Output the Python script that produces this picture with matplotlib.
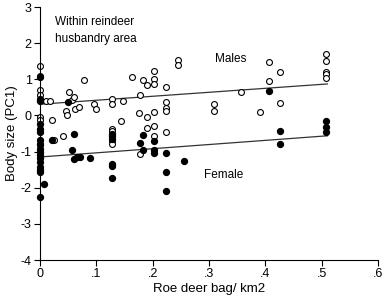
import matplotlib.pyplot as plt
import numpy as np

plt.rcParams['font.family'] = ['Liberation Sans', 'DejaVu Sans']
plt.rcParams['axes.unicode_minus'] = False

# males (open circles)
male_x = [0, 0, 0, 0, 0, 0, 0.011, 0.018, 0.021, 0, 0.025, 0.041,
          0.046, 0.048, 0.051, 0.056, 0.06, 0.062, 0.069, 0.078, 0.095, 0.1,
          0.127, 0.127, 0.127, 0.127, 0.127, 0.127, 0.143, 0.147, 0.164,
          0.175, 0.178, 0.178, 0.182, 0.19, 0.19, 0.19,
          0.202, 0.202, 0.202, 0.202, 0.202, 0.202,
          0.223, 0.223, 0.223, 0.223, 0.223, 0.245, 0.245,
          0.308, 0.308, 0.357, 0.39, 0.406, 0.406, 0.426, 0.426,
          0.507, 0.507, 0.507, 0.507, 0.507]
male_y = [1.37, 1.09, 0.71, 0.57, -0.03, -0.12, 0.40, 0.39, -0.12, -0.83, -0.67, -0.57,
          0.13, 0.02, 0.66, 0.42, 0.52, 0.19, 0.24, 0.97, 0.32, 0.17,
          0.45, 0.32, -0.37, -0.44, -0.71, -0.80, -0.15, 0.39, 1.05,
          0.07, 0.57, -1.08, 0.97, 0.83, -0.05, -0.35,
          1.22, 1.00, 0.86, 0.10, -0.29, -0.58,
          0.78, 0.36, 0.21, 0.12, -0.46, 1.52, 1.39,
          0.32, 0.13, 0.66, 0.10, 1.49, 0.95, 1.20, 0.34,
          1.69, 1.50, 1.21, 1.16, 1.03]

# females (filled circles)
female_x = [0, 0, 0, 0, 0, 0, 0, 0, 0, 0, 0, 0, 0, 0, 0, 0, 0, 0.008,
            0.021, 0.049, 0.056, 0.061, 0.061, 0.066, 0.071, 0.089,
            0.127, 0.127, 0.127, 0.127, 0.127, 0.127,
            0.178, 0.182, 0.182, 0.202, 0.202, 0.202,
            0.223, 0.223, 0.223, 0.256,
            0.406, 0.426, 0.426, 0.507, 0.507, 0.507]
female_y = [1.07, 0.45, 0.41, -0.23, -0.37, -0.46, -0.69, -0.79, -0.93, -1.02, -1.09,
            -1.19, -1.30, -1.42, -1.50, -1.57, -2.27, -1.90,
            -0.67, 0.37, -0.96, -0.52, -1.20, -1.16, -1.14, -1.18,
            -0.51, -0.57, -0.65, -1.34, -1.39, -1.73,
            -0.76, -0.54, -0.95, -0.72, -0.97, -1.04,
            -1.03, -1.56, -2.10, -1.27,
            0.68, -0.44, -0.79, -0.16, -0.31, -0.46]

# fitted lines (intercept, slope)
male_fit = (0.31, 1.10)
female_fit = (-1.15, 1.15)
line_x = [0.005, 0.51]

x_ticks = [0, 0.1, 0.2, 0.3, 0.4, 0.5, 0.6]
x_labels = ['0', '.1', '.2', '.3', '.4', '.5', '.6']
y_ticks = [-4, -3, -2, -1, 0, 1, 2, 3]

fig = plt.figure(figsize=(3.83, 2.98), dpi=100)
ax = fig.add_axes([0.1044, 0.1275, 0.8826, 0.849])

lx = np.array(line_x)
ax.plot(lx, male_fit[0] + male_fit[1] * lx, color='#333333', lw=0.9, zorder=1)
ax.plot(lx, female_fit[0] + female_fit[1] * lx, color='#333333', lw=0.9, zorder=1)

ax.scatter(male_x, male_y, s=18, facecolors='white', edgecolors='black',
           linewidths=0.8, zorder=2, clip_on=False)
ax.scatter(female_x, female_y, s=18, color='black', zorder=3, clip_on=False)

ax.set_xlim(0, 0.6)
ax.set_ylim(-4, 3)
ax.set_xticks(x_ticks)
ax.set_xticklabels(x_labels)
ax.set_yticks(y_ticks)
ax.spines['top'].set_visible(False)
ax.spines['right'].set_visible(False)
ax.tick_params(direction='out', length=4, width=0.8, labelsize=9, pad=2)

ax.set_xlabel('Roe deer bag/ km2', fontsize=9.5, labelpad=2)
ax.set_ylabel('Body size (PC1)', fontsize=9.5, labelpad=2)

ax.text(0.027, 2.75, 'Within reindeer\nhusbandry area', fontsize=8.5,
        va='top', linespacing=1.5)
ax.text(0.31, 1.55, 'Males', fontsize=8.5, va='center')
ax.text(0.292, -1.66, 'Female', fontsize=8.5, va='center')

fig.savefig('out.png', dpi=100)
